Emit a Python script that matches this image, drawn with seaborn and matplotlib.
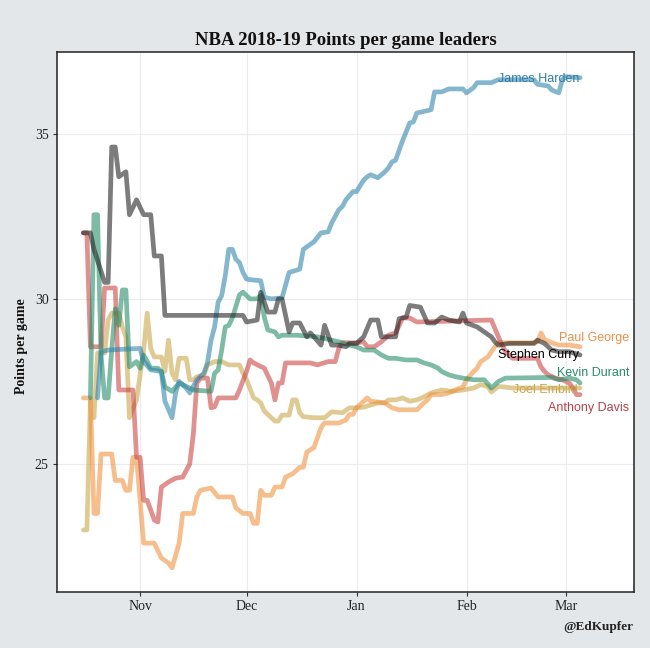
import pandas as pd
import matplotlib
matplotlib.use('Agg')
import matplotlib.pyplot as plt
import matplotlib.dates as mdates
import seaborn as sns

# -----------------------------
# Data: days since season start (2018-10-16) and running points per game
# -----------------------------
season_start = pd.Timestamp('2018-10-16')

curry_days = [0, 2, 3, 6, 7, 8, 9, 10, 12, 13, 15, 17, 19, 20, 22, 23, 45, 46, 49, 50,
              52, 54, 55, 56, 58, 59, 61, 63, 64, 65, 67, 68, 70, 72, 74, 75, 77, 79, 81, 83,
              84, 88, 89, 91, 92, 95, 97, 99, 101, 103, 106, 107, 108, 111, 113, 115, 116, 117,
              120, 127, 128, 130, 132, 134, 137, 140]
curry_ppg = [32.0, 32.0, 31.5, 30.5, 30.5, 34.6, 34.6, 33.7, 33.85, 32.55, 33.0, 32.55, 32.55,
             31.3, 31.3, 29.5, 29.5, 29.3, 29.36, 30.2, 29.6, 29.6, 30.0, 30.0, 29.0, 29.27,
             29.27, 28.85, 28.97, 28.85, 28.6, 29.2, 28.6, 28.6, 28.55, 28.65, 28.65, 28.85,
             29.36, 29.36, 28.85, 28.85, 29.4, 29.45, 29.8, 29.75, 29.27, 29.27, 29.45, 29.36,
             29.3, 29.57, 29.27, 29.15, 29.0, 28.85, 28.7, 28.6, 28.65, 28.65, 28.75, 28.65,
             28.45, 28.4, 28.4, 28.3]

harden_days = [4, 5, 7, 16, 17, 19, 22, 23, 25, 26, 27, 29, 30, 32, 34, 35, 36, 37, 38, 39,
               40, 41, 42, 43, 44, 45, 46, 48, 50, 51, 53, 56, 58, 61, 62, 65, 67, 69, 70, 72,
               73, 74, 76, 77, 79, 80, 81, 83, 85, 86, 87, 88, 89, 90, 92, 93, 94, 98, 99, 101,
               103, 107, 108, 110, 111, 115, 117, 127, 128, 131, 132, 134, 135, 136, 140]
harden_ppg = [27.0, 28.4, 28.45, 28.5, 28.1, 27.85, 27.8, 26.9, 26.4, 27.15, 27.5, 27.3, 27.15,
              27.55, 27.75, 28.07, 28.75, 29.15, 29.9, 30.1, 30.7, 31.5, 31.5, 31.2, 31.1, 30.8,
              30.6, 30.57, 30.55, 30.05, 30.0, 30.03, 30.8, 30.9, 31.5, 31.73, 32.0, 32.03, 32.3,
              32.7, 32.8, 33.0, 33.25, 33.25, 33.6, 33.7, 33.76, 33.67, 33.85, 33.97, 34.15, 34.2,
              34.5, 34.8, 35.33, 35.36, 35.63, 35.73, 36.27, 36.27, 36.36, 36.36, 36.24, 36.4,
              36.55, 36.55, 36.64, 36.64, 36.5, 36.45, 36.33, 36.24, 36.64, 36.73, 36.7]

durant_days = [2, 3, 4, 5, 6, 7, 8, 9, 10, 11, 12, 13, 15, 16, 17, 19, 21, 22, 23, 25, 27, 29,
               31, 36, 37, 38, 39, 40, 41, 42, 44, 45, 47, 49, 50, 51, 52, 54, 55, 56, 60, 66,
               72, 75, 77, 79, 82, 84, 86, 88, 91, 94, 96, 98, 100, 101, 103, 105, 107, 110, 113,
               115, 117, 119, 132, 134, 137, 139, 140]
durant_ppg = [27.0, 32.55, 32.55, 28.3, 27.0, 27.0, 28.45, 29.7, 29.2, 30.27, 30.27, 27.94,
              28.1, 27.9, 28.3, 27.9, 27.9, 27.8, 27.33, 27.2, 27.45, 27.35, 27.24, 27.2, 27.75,
              27.85, 28.45, 29.15, 29.2, 29.42, 30.12, 30.2, 30.0, 30.0, 30.1, 29.45, 29.06, 29.0,
              28.85, 28.9, 28.9, 28.85, 28.7, 28.6, 28.55, 28.45, 28.45, 28.3, 28.2, 28.2, 28.15,
              28.15, 28.06, 28.0, 27.9, 27.8, 27.7, 27.64, 27.6, 27.55, 27.55, 27.3, 27.5, 27.6,
              27.62, 27.55, 27.6, 27.55, 27.45]

george_days = [0, 2, 3, 4, 5, 8, 9, 11, 12, 13, 14, 15, 17, 20, 22, 24, 25, 27, 28, 31, 32, 33,
               36, 38, 42, 43, 45, 47, 48, 49, 50, 51, 53, 54, 56, 57, 59, 61, 62, 63, 65, 66, 67,
               68, 72, 74, 75, 76, 77, 79, 80, 81, 85, 87, 89, 94, 96, 97, 98, 101, 103, 105, 107,
               108, 110, 111, 112, 114, 115, 116, 117, 126, 128, 129, 130, 132, 134, 137, 140]
george_ppg = [27.0, 27.0, 23.5, 23.5, 25.3, 25.3, 24.5, 24.5, 24.2, 24.2, 25.2, 25.2, 22.6, 22.6,
              22.15, 22.0, 21.85, 22.6, 23.5, 23.5, 24.0, 24.2, 24.27, 24.0, 24.0, 23.67, 23.5,
              23.5, 23.2, 23.2, 24.2, 24.05, 24.05, 24.3, 24.3, 24.6, 24.7, 24.9, 24.9, 25.36,
              25.5, 25.8, 26.1, 26.24, 26.24, 26.33, 26.5, 26.5, 26.7, 26.9, 27.0, 26.9, 26.85,
              26.7, 26.64, 26.64, 26.85, 26.94, 27.1, 27.1, 27.15, 27.25, 27.33, 27.55, 27.8,
              27.9, 28.1, 28.24, 28.4, 28.55, 28.67, 28.67, 28.7, 28.97, 28.76, 28.67, 28.6,
              28.6, 28.55]

embiid_days = [0, 1, 2, 3, 4, 6, 7, 8, 10, 11, 12, 13, 15, 17, 18, 19, 20, 22, 23, 24, 25, 26,
               27, 29, 30, 31, 32, 34, 35, 37, 39, 41, 44, 45, 46, 48, 49, 50, 51, 53, 54, 55, 56,
               58, 59, 60, 61, 62, 65, 68, 70, 73, 75, 77, 79, 83, 85, 86, 88, 90, 92, 94, 96,
               98, 101, 104, 107, 110, 112, 114, 115, 117, 121, 140]
embiid_ppg = [23.0, 23.0, 26.9, 26.4, 28.36, 28.36, 29.36, 29.57, 29.57, 29.15, 28.85, 26.4,
              26.94, 28.45, 29.57, 28.5, 28.24, 28.24, 27.8, 28.75, 27.75, 27.55, 28.2, 28.2,
              27.55, 27.55, 27.64, 27.7, 28.0, 28.1, 28.1, 28.0, 28.0, 27.75, 27.55, 27.0, 26.94,
              26.85, 26.6, 26.4, 26.3, 26.3, 26.48, 26.48, 26.94, 26.94, 26.55, 26.43, 26.4, 26.4,
              26.58, 26.55, 26.7, 26.7, 26.72, 26.85, 26.85, 26.94, 26.94, 27.0, 26.9, 26.94,
              27.03, 27.15, 27.24, 27.2, 27.24, 27.3, 27.4, 27.35, 27.18, 27.35, 27.3, 27.3]

davis_days = [0, 1, 2, 5, 6, 9, 10, 14, 15, 16, 17, 18, 20, 21, 22, 24, 26, 28, 30, 31, 32, 33,
              35, 36, 37, 38, 43, 44, 46, 47, 48, 51, 53, 54, 55, 56, 57, 64, 66, 69, 71, 72, 73,
              77, 79, 80, 82, 84, 86, 88, 90, 92, 94, 115, 116, 117, 118, 119, 121, 128, 129, 130,
              131, 133, 135, 137, 138, 139, 140]
davis_ppg = [32.0, 32.0, 28.55, 28.55, 30.33, 30.33, 27.24, 27.24, 25.2, 25.2, 23.9, 23.9, 23.3,
             23.24, 24.3, 24.45, 24.57, 24.6, 25.0, 25.9, 27.45, 27.6, 27.6, 26.7, 26.73, 27.0,
             27.0, 27.24, 27.8, 28.15, 28.06, 27.9, 27.45, 26.94, 27.45, 27.45, 28.06, 28.06,
             28.0, 28.1, 28.1, 28.5, 28.67, 28.67, 28.7, 28.55, 28.55, 28.7, 28.9, 28.97, 29.42,
             29.42, 29.3, 29.36, 29.1, 28.85, 28.6, 28.4, 28.2, 28.2, 27.94, 27.8, 27.7, 27.6,
             27.55, 27.45, 27.3, 27.1, 27.1]

players = ['Joel Embiid', 'Paul George', 'Anthony Davis', 'Kevin Durant', 'James Harden', 'Stephen Curry']
line_colors = ['#c9a545', '#f0903a', '#c8403f', '#1f8a65', '#2b83ab', '#1e1e1e']
label_colors = ['#c9a84e', '#e8904a', '#b5434a', '#2a8a6a', '#2f7da5', '#000000']

# label anchor (days since start, ppg) for the direct labels at the right end
label_days = [121, 134, 131, 133.5, 117, 117]
label_vals = [27.24, 28.82, 26.7, 27.76, 36.67, 28.3]

series = {
    'Joel Embiid': (embiid_days, embiid_ppg),
    'Paul George': (george_days, george_ppg),
    'Anthony Davis': (davis_days, davis_ppg),
    'Kevin Durant': (durant_days, durant_ppg),
    'James Harden': (harden_days, harden_ppg),
    'Stephen Curry': (curry_days, curry_ppg),
}

rows = []
for name in players:
    days, vals = series[name]
    for d, v in zip(days, vals):
        rows.append({'player': name, 'date': season_start + pd.Timedelta(days=d), 'ppg': v})
df = pd.DataFrame(rows)

# -----------------------------
# Plot
# -----------------------------
sns.set_theme(style='whitegrid')
plt.rcParams['font.family'] = ['Liberation Serif', 'DejaVu Serif']

fig = plt.figure(figsize=(6.5, 6.48), dpi=100)
fig.patch.set_facecolor('#e4e7ea')
ax = fig.add_axes([0.0877, 0.0864, 0.8877, 0.8334])
ax.set_facecolor('white')

sns.lineplot(data=df, x='date', y='ppg', hue='player', hue_order=players,
             palette=dict(zip(players, line_colors)), linewidth=3.4, alpha=0.58,
             legend=False, ax=ax)

for name, c, d, v in zip(players, label_colors, label_days, label_vals):
    ax.text(season_start + pd.Timedelta(days=d), v, name, color=c, fontsize=9,
            family='Liberation Sans', ha='left', va='center')

ax.set_xlim(pd.Timestamp('2018-10-08 14:00'), pd.Timestamp('2019-03-20 05:00'))
ax.set_ylim(21.12, 37.48)
ax.set_yticks([25, 30, 35])
ax.xaxis.set_major_locator(mdates.MonthLocator())
ax.xaxis.set_major_formatter(mdates.DateFormatter('%b'))

ax.grid(True, color='#ececf0', linewidth=0.8)
for s in ax.spines.values():
    s.set_visible(True)
    s.set_color('#222222')
    s.set_linewidth(1.1)
ax.tick_params(axis='both', which='major', length=3, width=0.8, color='#333333',
               labelsize=10, labelcolor='#222222', pad=3, bottom=True, left=True)

ax.set_xlabel('')
ax.set_ylabel('Points per game', fontsize=10, fontweight='bold', color='#111111')
ax.yaxis.set_label_coords(-0.05, 0.455)
fig.text(0.532, 0.938, 'NBA 2018-19 Points per game leaders', ha='center', va='center',
         fontsize=13.5, fontweight='bold', color='#111111')
fig.text(0.975, 0.033, '@EdKupfer', ha='right', va='center', fontsize=9.5, fontweight='bold',
         color='#222222')

plt.savefig('out.png', dpi=100, facecolor=fig.get_facecolor())
